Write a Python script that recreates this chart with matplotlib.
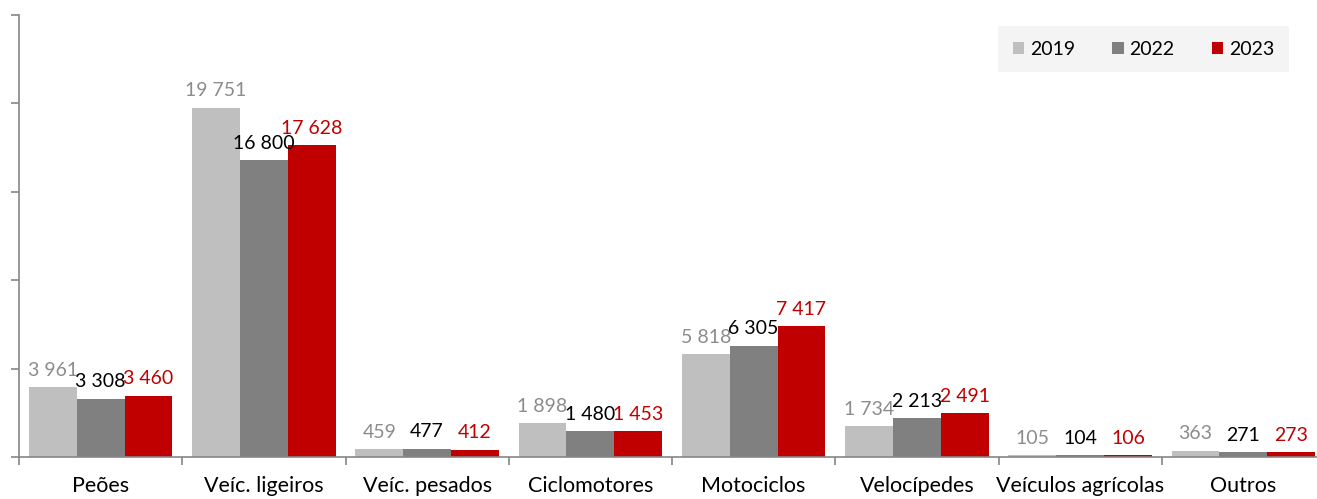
import numpy as np
import matplotlib.pyplot as plt

# data
categories = ["Peões", "Veíc. ligeiros", "Veíc. pesados", "Ciclomotores",
              "Motociclos", "Velocípedes", "Veículos agrícolas", "Outros"]
v2019 = [3961, 19751, 459, 1898, 5818, 1734, 105, 363]
v2022 = [3308, 16800, 477, 1480, 6305, 2213, 104, 271]
v2023 = [3460, 17628, 412, 1453, 7417, 2491, 106, 273]
years = ["2019", "2022", "2023"]

bar_colors = ["#bfbfbf", "#808080", "#c00000"]
label_colors = ["#8c8c8c", "#000000", "#c00000"]

plt.rcParams['font.family'] = ['Lato', 'DejaVu Sans']

fig = plt.figure(figsize=(13.17, 4.99), dpi=100)
ax = fig.add_axes([19/1317, 42/499, 1306/1317, 442/499])

x = np.arange(len(categories))
w = 0.293
series = [v2019, v2022, v2023]
for i, vals in enumerate(series):
    pos = x + (i - 1) * w
    ax.bar(pos, vals, width=w, color=bar_colors[i], label=years[i])
    for p, v in zip(pos, vals):
        txt = f"{v:,}".replace(",", " ")
        ax.annotate(txt, (p, v), xytext=(0, 6), textcoords="offset points",
                    ha="center", va="bottom", fontsize=14, color=label_colors[i])

ax.set_xlim(-0.5, len(categories) - 0.5)
ax.set_ylim(0, 25000)
ax.set_yticks(np.arange(0, 25001, 5000))
ax.set_yticklabels([])
ax.set_xticks(x)
ax.set_xticklabels(categories, fontsize=15.5)
ax.set_xticks(np.arange(-0.5, len(categories)), minor=True)
ax.tick_params(axis="x", which="major", length=0, pad=14)
ax.tick_params(axis="x", which="minor", length=6, color="#868686", width=1.2)
ax.tick_params(axis="y", length=6, color="#868686", width=1.2)

for s in ["top", "right"]:
    ax.spines[s].set_visible(False)
for s in ["left", "bottom"]:
    ax.spines[s].set_color("#868686")
    ax.spines[s].set_linewidth(1.2)

leg = ax.legend(loc="upper right", bbox_to_anchor=(1289/1317, 1 - 26/499),
                bbox_transform=fig.transFigure, borderaxespad=0,
                ncol=3, frameon=True, fontsize=14,
                handlelength=0.6, handleheight=0.6, columnspacing=1.9, handletextpad=0.3,
                borderpad=0.75, fancybox=False)
leg.get_frame().set_facecolor("#f2f2f2")
leg.get_frame().set_edgecolor("none")
leg.get_frame().set_linewidth(0)

fig.savefig("out.png", dpi=100)
